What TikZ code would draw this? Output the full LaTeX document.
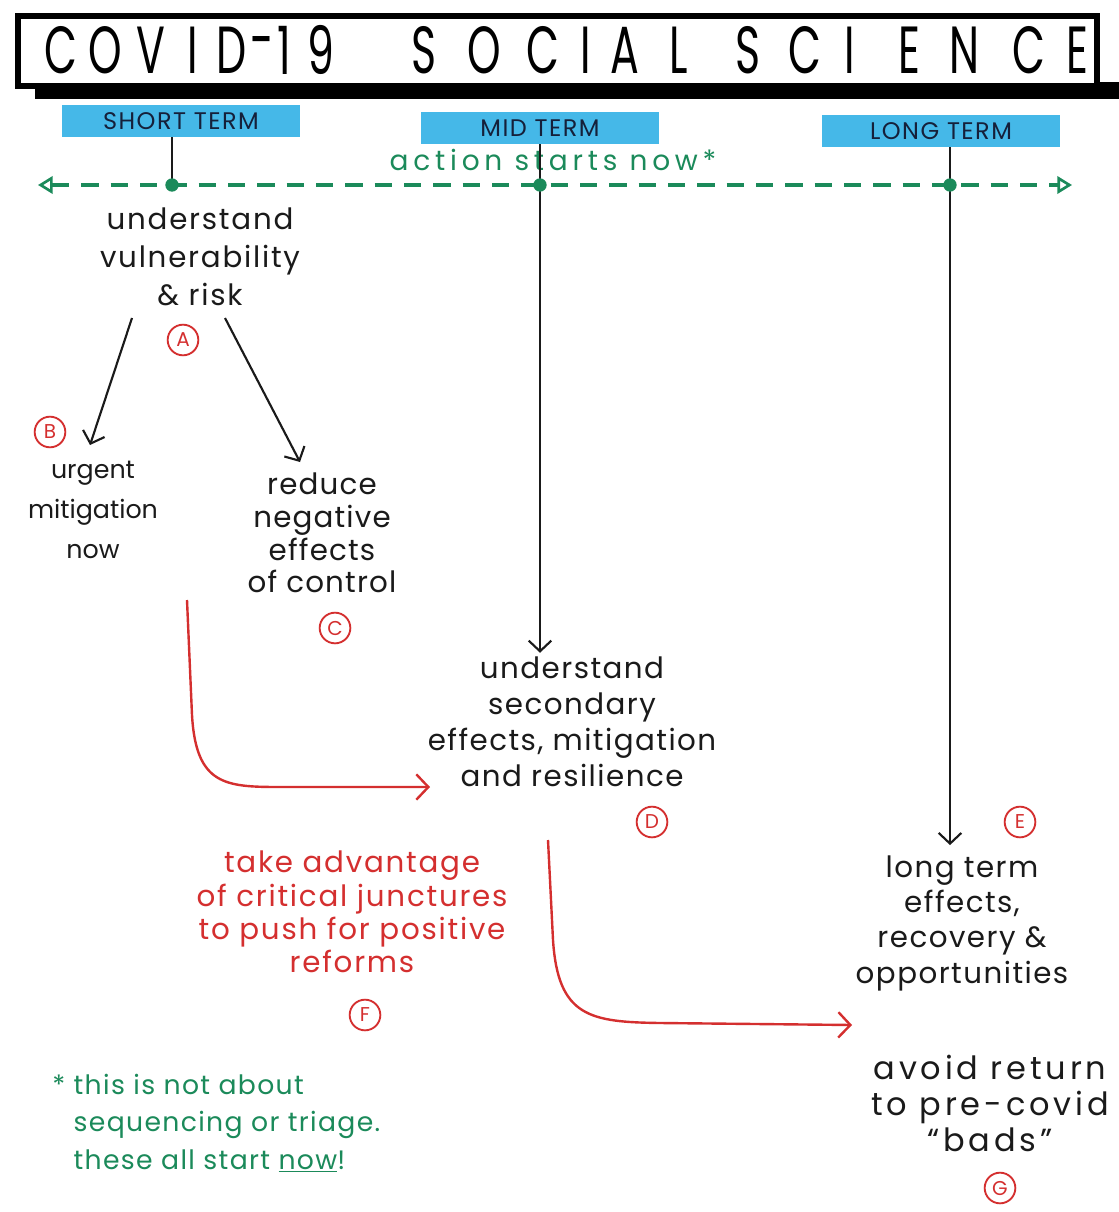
\documentclass[tikz,border=0pt]{standalone}
\usepackage{fontspec}
\setmainfont{Poppins}
\usetikzlibrary{arrows.meta,calc}
\definecolor{ink}{HTML}{1A1A1A}
\definecolor{ttred}{HTML}{D42F2F}
\definecolor{tgreen}{HTML}{1B8A5A}
\definecolor{skyb}{HTML}{45B8E8}
\definecolor{navy}{HTML}{15203A}
\newcommand\hfont[3]{\fontsize{#1}{#2}\selectfont\addfontfeature{LetterSpace=#3}}
\tikzset{
  txt/.style={align=center, font=\hfont{21}{27}{5}, text=ink, inner sep=0pt},
  circ/.style={circle, draw=ttred, line width=1.4pt, text=ttred, font=\fontsize{15}{15}\selectfont, inner sep=0pt, minimum size=23pt},
  termbox/.style={fill=skyb, minimum width=178pt, minimum height=24pt, font=\hfont{18}{18}{6}, text=navy, inner sep=0pt},
  titlech/.style={font=\fontsize{50}{50}\selectfont, text=black, inner sep=0pt},
  blk/.style={draw=ink, line width=1.6pt, -{Straight Barb[length=8pt,width=17pt,line width=1.6pt]}},
  stem/.style={draw=ink, line width=1.6pt},
  redarr/.style={draw=ttred, line width=1.8pt, -{Straight Barb[length=9pt,width=19pt,line width=1.8pt]}},
  gdot/.style={circle, fill=tgreen, minimum size=10pt, inner sep=0pt},
  dashline/.style={draw=tgreen, line width=3pt, dash pattern=on 13pt off 9pt,
    {Triangle[open,length=11pt,width=13pt,line width=2pt]}-{Triangle[open,length=11pt,width=13pt,line width=2pt]}}
}
\begin{document}
\begin{tikzpicture}[x=0.75pt,y=-0.75pt]
\useasboundingbox (0,0) rectangle (1119,1212);
% title
\fill[black] (35,82) rectangle (1119,99);
\draw[line width=4pt, fill=white] (18,16) rectangle (1097,86);
\foreach \ch/\xx in {C/61,O/105,V/151,I/193,D/232,-/262,1/284,9/321,S/424,O/484,C/543,I/586,A/625,L/679,S/748,C/805,I/850,E/909,N/964,C/1029,E/1077}
  \node[titlech] (t\xx) at (\xx,50) {\scalebox{0.64}[1]{\ch}};
% term labels
\node[termbox] (short) at (181,121) {SHORT TERM};
\node[termbox] (mid) at (540,128) {MID TERM};
\node[termbox] (long) at (941,131) {LONG TERM};
% action text
\node[txt, text=tgreen, font=\hfont{21}{27}{17}] (action) at (553,160) {action starts now*};
% timeline
\coordinate (dl) at (38,185);
\coordinate (dr) at (1072,185);
\coordinate (s1) at (172,185);
\coordinate (m1) at (540,185);
\coordinate (l1) at (950,185);
\draw[dashline] (dl) -- (dr);
% text nodes
\node[txt, font=\hfont{22}{28.5}{6}] (Atxt) at (200,257) {understand\\vulnerability\\\& risk};
\node[circ] (cA) at (183,340) {A};
\node[circ] (cB) at (50,432) {B};
\node[txt, font=\hfont{19}{30}{0}] (Btxt) at (93,510) {urgent\\mitigation\\now};
\node[txt, font=\hfont{22}{24.5}{4}] (Ctxt) at (322,533) {reduce\\negative\\effects\\of control};
\node[circ] (cC) at (335,628) {C};
\node[txt, font=\hfont{22}{27}{5}] (Dtxt) at (572,722) {understand\\secondary\\effects, mitigation\\and resilience};
\node[circ] (cD) at (652,822) {D};
\node[txt, text=ttred, font=\hfont{22}{25}{6}] (Ftxt) at (352,912) {take advantage\\of critical junctures\\to push for positive\\reforms};
\node[circ] (cF) at (365,1015) {F};
\node[txt, font=\hfont{22}{26.5}{5}] (Etxt) at (962,923) {long term\\effects,\\recovery \&\\opportunities};
\node[circ] (cE) at (1020,822) {E};
\node[txt, font=\hfont{24}{27}{12}] (Gtxt) at (990,1103) {avoid return\\to pre-covid\\“bads”};
\node[circ] (cG) at (1000,1188) {G};
\node[txt, text=tgreen, align=left, anchor=west, font=\hfont{20}{28}{5}] (note) at (52,1123) {* this is not about\\\phantom{* }sequencing or triage.\\\phantom{* }these all start \underline{now}!};
% stems and arrows
\draw[stem] (s1 |- short.south) -- (s1);
\draw[blk] (m1 |- mid.south) -- ($(m1 |- Dtxt.north)+(0,-4)$);
\draw[blk] (l1 |- long.south) -- ($(l1 |- Etxt.north)+(0,-10)$);
\node[gdot] (d1) at (s1) {};
\node[gdot] (d2) at (m1) {};
\node[gdot] (d3) at (l1) {};
\coordinate (aL) at (132,318);
\coordinate (bH) at (90,445);
\coordinate (aR) at (225,318);
\coordinate (cH) at (300,462);
\draw[blk] (aL) -- (bH);
\draw[blk] (aR) -- (cH);
% red arrows
\coordinate (r1s) at (187,600);
\coordinate (r1e) at (430,787);
\draw[redarr] (r1s) -- (192,715) .. controls (196,785) and (225,787) .. (280,787) -- (r1e);
\coordinate (r2s) at (548,840);
\coordinate (r2e) at (852,1025);
\draw[redarr] (r2s) -- (553,940) .. controls (558,1017) and (590,1022) .. (660,1023) -- (r2e);
\end{tikzpicture}
\end{document}
